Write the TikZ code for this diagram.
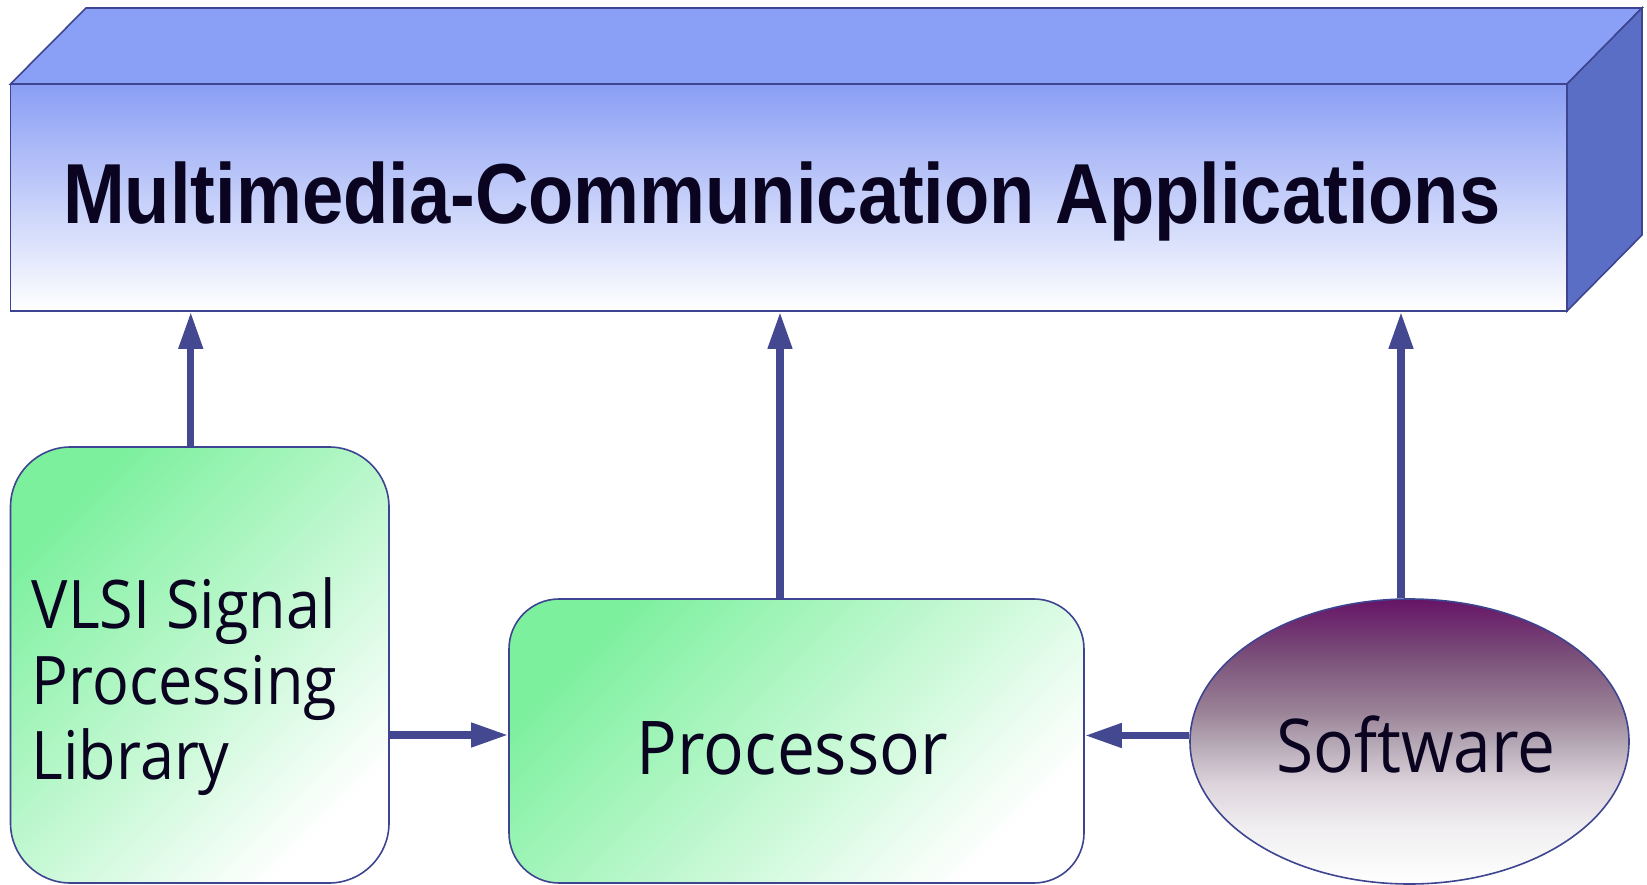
\documentclass[tikz,border=0pt]{standalone}
\usepackage{fontspec}
\setmainfont[FakeStretch=0.912]{Open Sans}
\newfontfamily\titlefont[FakeStretch=0.87]{Liberation Sans}
\usetikzlibrary{arrows.meta,shapes.geometric}
\definecolor{edge}{HTML}{3E4590}
\definecolor{conn}{HTML}{434890}
\definecolor{topface}{HTML}{8AA0F6}
\definecolor{sideface}{HTML}{5A6EC6}
\definecolor{frontTop}{HTML}{8A9EF4}
\definecolor{mint}{HTML}{7DF09E}
\definecolor{plum}{HTML}{661466}
\definecolor{plumA}{HTML}{7A507A}
\definecolor{plumB}{HTML}{9C8498}
\definecolor{plumC}{HTML}{B4A6B4}
\definecolor{plumD}{HTML}{DDD4DC}
\definecolor{plumE}{HTML}{F0EEF0}
\definecolor{ink}{HTML}{0A0420}
\pgfdeclareverticalshading{swshade}{100bp}{color(0bp)=(white); color(25bp)=(white); color(35bp)=(plumE); color(42.5bp)=(plumD); color(50bp)=(plumC); color(55bp)=(plumB); color(65bp)=(plumA); color(75bp)=(plum); color(100bp)=(plum)}
\begin{document}
\begin{tikzpicture}[x=1pt,y=-1pt,
  shapeline/.style={draw=edge, line width=1.6pt},
  greenbox/.style={shapeline, rectangle, top color=mint, bottom color=white, shading angle=45, inner sep=0pt},
  connector/.style={draw=conn, line width=7.3pt, -{Triangle[length=37pt,width=23pt]}},
  txt/.style={text=ink, inner sep=0pt},
  bodyfont/.style={font=\fontsize{74.2}{80}\selectfont},
  libfont/.style={font=\fontsize{67}{75}\selectfont}
]
\useasboundingbox (0,0) rectangle (1647,885);
% 3D application box
\filldraw[shapeline, fill=topface] (10.5,84) -- (86,8) -- (1642,8) -- (1567,84) -- cycle;
\filldraw[shapeline, fill=sideface] (1567,84) -- (1642,8) -- (1642,235) -- (1567,311) -- cycle;
\node[shapeline, rectangle, minimum width=1556.5pt, minimum height=227pt, top color=frontTop, bottom color=white, inner sep=0pt] (app) at (788.75,197.5) {};
\node[txt, anchor=base west, font=\titlefont\bfseries\fontsize{85.2}{90}\selectfont] (title) at (63,224) {Multimedia-Communication Applications};
% lower blocks
\node[greenbox, rounded corners=60pt, minimum width=378.5pt, minimum height=436pt] (lib) at (199.75,665) {};
\node[greenbox, rounded corners=50pt, minimum width=575pt, minimum height=284pt] (proc) at (796.5,741) {};
\node[shapeline, ellipse, minimum width=439pt, minimum height=285pt, inner sep=0pt, shading=swshade] (sw) at (1409.5,741.5) {};
% texts
\node[txt, libfont, anchor=base west] (lib1) at (31.5,628) {VLSI Signal};
\node[txt, libfont, anchor=base west] (lib2) at (31.5,704) {Processing};
\node[txt, libfont, anchor=base west] (lib3) at (31.5,779) {Library};
\node[txt, bodyfont, anchor=base] (proct) at (792.5,774) {Processor};
\node[txt, bodyfont, anchor=base] (swt) at (1416,772) {Software};
% connectors
\draw[connector] ([xshift=-9pt]lib.north) -- ([xshift=-9pt]lib.north |- app.south);
\draw[connector] ([xshift=-16.5pt]proc.north) -- ([xshift=-16.5pt]proc.north |- app.south);
\draw[connector] ([xshift=-8.5pt]sw.north) -- ([xshift=-8.5pt]sw.north |- app.south);
\draw[connector] ([yshift=-70pt]lib.east) -- ([yshift=-70pt]lib.east -| proc.west);
\draw[connector] ([yshift=6pt]sw.west) -- ([yshift=6pt]sw.west -| proc.east);
\end{tikzpicture}
\end{document}
